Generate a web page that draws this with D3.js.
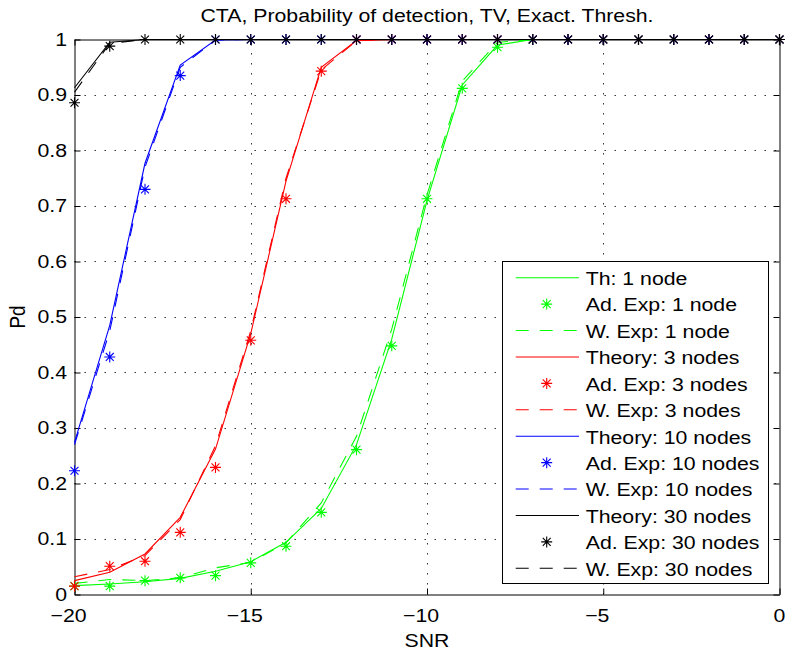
<!DOCTYPE html>
<html>
<head>
<meta charset="utf-8">
<script src="https://cdn.jsdelivr.net/npm/d3@7"></script>
<style>
  html, body { margin: 0; padding: 0; background: #fff; }
  svg { display: block; }
  text { font-family: "Liberation Sans", Arial, Helvetica, sans-serif; fill: #000; }
</style>
</head>
<body>
<svg id="chart" width="788" height="655"></svg>
<script>
// SNR grid (dB)
const snr = [-20, -19, -18, -17, -16, -15, -14, -13, -12, -11, -10, -9, -8, -7, -6, -5, -4, -3, -2, -1, 0];

// 1 node
const th1 = [0.016, 0.019, 0.023, 0.029, 0.042, 0.059, 0.094, 0.155, 0.27, 0.46, 0.71, 0.918, 0.99, 1, 1, 1, 1, 1, 1, 1, 1];
const ad1 = [0.015, 0.015, 0.025, 0.030, 0.034, 0.057, 0.087, 0.148, 0.261, 0.448, 0.713, 0.912, 0.986, 1, 1, 1, 1, 1, 1, 1, 1];
const w1  = [0.020, 0.027, 0.025, 0.030, 0.048, 0.058, 0.093, 0.165, 0.285, 0.478, 0.72, 0.925, 0.995, 1, 1, 1, 1, 1, 1, 1, 1];

// 3 nodes
const th3 = [0.025, 0.040, 0.073, 0.139, 0.262, 0.47, 0.745, 0.95, 0.998, 1, 1, 1, 1, 1, 1, 1, 1, 1, 1, 1, 1];
const ad3 = [0.015, 0.051, 0.060, 0.112, 0.229, 0.458, 0.713, 0.943, 1, 1, 1, 1, 1, 1, 1, 1, 1, 1, 1, 1, 1];
const w3  = [0.032, 0.045, 0.070, 0.135, 0.268, 0.475, 0.75, 0.945, 0.998, 1, 1, 1, 1, 1, 1, 1, 1, 1, 1, 1, 1];

// 10 nodes
const th10 = [0.274, 0.485, 0.777, 0.954, 0.999, 1, 1, 1, 1, 1, 1, 1, 1, 1, 1, 1, 1, 1, 1, 1, 1];
const ad10 = [0.223, 0.428, 0.73, 0.935, 1, 1, 1, 1, 1, 1, 1, 1, 1, 1, 1, 1, 1, 1, 1, 1, 1];
const w10  = [0.270, 0.475, 0.77, 0.95, 0.999, 1, 1, 1, 1, 1, 1, 1, 1, 1, 1, 1, 1, 1, 1, 1, 1];

// 30 nodes
const th30 = [0.913, 0.995, 1, 1, 1, 1, 1, 1, 1, 1, 1, 1, 1, 1, 1, 1, 1, 1, 1, 1, 1];
const ad30 = [0.886, 0.988, 1, 1, 1, 1, 1, 1, 1, 1, 1, 1, 1, 1, 1, 1, 1, 1, 1, 1, 1];
const w30  = [0.905, 0.993, 1, 1, 1, 1, 1, 1, 1, 1, 1, 1, 1, 1, 1, 1, 1, 1, 1, 1, 1];

const xTicks = [-20, -15, -10, -5, 0];
const yTicks = [0, 0.1, 0.2, 0.3, 0.4, 0.5, 0.6, 0.7, 0.8, 0.9, 1];

const titleText = "CTA, Probability of detection, TV, Exact. Thresh.";
const xLabel = "SNR";
const yLabel = "Pd";

const groups = [
  { color: "#00ff00", th: th1,  ad: ad1,  w: w1,  names: ["Th: 1 node", "Ad. Exp: 1 node", "W. Exp: 1 node"] },
  { color: "#ff0000", th: th3,  ad: ad3,  w: w3,  names: ["Theory: 3 nodes", "Ad. Exp: 3 nodes", "W. Exp: 3 nodes"] },
  { color: "#0000ff", th: th10, ad: ad10, w: w10, names: ["Theory: 10 nodes", "Ad. Exp: 10 nodes", "W. Exp: 10 nodes"] },
  { color: "#000000", th: th30, ad: ad30, w: w30, names: ["Theory: 30 nodes", "Ad. Exp: 30 nodes", "W. Exp: 30 nodes"] }
];

const FS = 19, SX = 1.12;   // font size and horizontal text stretch
const DASH = "13,11";

const svg = d3.select("#chart");
svg.append("rect").attr("width", 788).attr("height", 655).attr("fill", "#fff");

const L = 74.5, R = 779.5, T = 39.5, B = 594.5;
const x = d3.scaleLinear().domain([-20, 0]).range([L, R]);
const y = d3.scaleLinear().domain([0, 1]).range([B, T]);

// helper for stretched text
function label(g, px, py, str, anchor, rot) {
  const t = g.append("text")
    .attr("transform", `translate(${px},${py}) scale(${SX},1)` + (rot ? ` rotate(${rot})` : ""))
    .attr("text-anchor", anchor)
    .attr("font-size", FS)
    .text(str);
  return t;
}

// grid
const grid = svg.append("g").attr("stroke", "#222").attr("stroke-width", 1).attr("stroke-dasharray", "1.4,8.6");
grid.selectAll("line.gx").data(xTicks.filter(d => d > -20 && d < 0)).join("line")
  .attr("x1", d => Math.round(x(d)) + 0.5).attr("x2", d => Math.round(x(d)) + 0.5)
  .attr("y1", B).attr("y2", T);
grid.selectAll("line.gy").data(yTicks.filter(d => d > 0 && d < 1)).join("line")
  .attr("y1", d => Math.round(y(d) - 0.5) + 0.5).attr("y2", d => Math.round(y(d) - 0.5) + 0.5)
  .attr("x1", L).attr("x2", R);

// axes with inward ticks on all four sides
const TL = 6;
const axes = svg.append("g");
const yAxisL = d3.axisLeft(y).tickValues(yTicks).tickSizeInner(-TL).tickSizeOuter(0).tickFormat("");
const yAxisR = d3.axisRight(y).tickValues(yTicks).tickSizeInner(-TL).tickSizeOuter(0).tickFormat("");
const xAxisB = d3.axisBottom(x).tickValues(xTicks).tickSizeInner(-TL).tickSizeOuter(0).tickFormat("");
const xAxisT = d3.axisTop(x).tickValues(xTicks).tickSizeInner(-TL).tickSizeOuter(0).tickFormat("");
axes.append("g").attr("transform", `translate(${L},0)`).call(yAxisL);
axes.append("g").attr("transform", `translate(${R},0)`).call(yAxisR);
axes.append("g").attr("transform", `translate(0,${B})`).call(xAxisB);
axes.append("g").attr("transform", `translate(0,${T})`).call(xAxisT);
axes.selectAll("path.domain").attr("stroke", "#000").attr("stroke-width", 1);
axes.selectAll(".tick line").attr("stroke", "#000").attr("stroke-width", 1);

// tick labels
const tl = svg.append("g");
yTicks.forEach(v => {
  label(tl, 67, y(v) + 6.2, d3.format("~g")(v), "end");
});
xTicks.forEach(v => {
  const s = v < 0 ? "\u2212" + Math.abs(v) : String(v);
  label(tl, x(v) - (v < 0 ? 6 : 0), 622, s, "middle");
});

// titles
label(svg, (L + R) / 2, 22, titleText, "middle");
label(svg, (L + R) / 2, 646.5, xLabel, "middle");
label(svg, 24.5, (T + B) / 2, yLabel, "middle", -90);

// data
const plot = svg.append("g");
const line = d3.line().x((d, i) => x(snr[i])).y(d => y(d));
const star = r => {
  const d = r * 0.72;
  return `M0,${-r}V${r}M${-r},0H${r}M${-d},${-d}L${d},${d}M${-d},${d}L${d},${-d}`;
};

groups.forEach(g => {
  plot.append("path").datum(g.th).attr("d", line)
    .attr("fill", "none").attr("stroke", g.color).attr("stroke-width", 1.1);
  plot.append("g").selectAll("path").data(g.ad).join("path")
    .attr("transform", (d, i) => `translate(${x(snr[i])},${y(d)})`)
    .attr("d", star(5.5)).attr("fill", "none").attr("stroke", g.color).attr("stroke-width", 1.1);
  plot.append("path").datum(g.w).attr("d", line)
    .attr("fill", "none").attr("stroke", g.color).attr("stroke-width", 1.1).attr("stroke-dasharray", DASH);
});

// legend
const lg = svg.append("g");
lg.append("rect").attr("x", 502.5).attr("y", 261.5).attr("width", 266).attr("height", 322)
  .attr("fill", "#fff").attr("stroke", "#000").attr("stroke-width", 1);
const rowY = i => 277.7 + i * 26.42;
groups.forEach((g, gi) => {
  const base = gi * 3;
  lg.append("line").attr("x1", 515.7).attr("x2", 579).attr("y1", rowY(base)).attr("y2", rowY(base))
    .attr("stroke", g.color).attr("stroke-width", 1.1);
  lg.append("path").attr("transform", `translate(546.7,${rowY(base + 1)})`)
    .attr("d", star(5.5)).attr("fill", "none").attr("stroke", g.color).attr("stroke-width", 1.1);
  lg.append("line").attr("x1", 515.7).attr("x2", 579).attr("y1", rowY(base + 2)).attr("y2", rowY(base + 2))
    .attr("stroke", g.color).attr("stroke-width", 1.1).attr("stroke-dasharray", DASH);
  g.names.forEach((n, k) => {
    label(lg, 585.7, rowY(base + k) + 7.3, n, "start");
  });
});
</script>
</body>
</html>
